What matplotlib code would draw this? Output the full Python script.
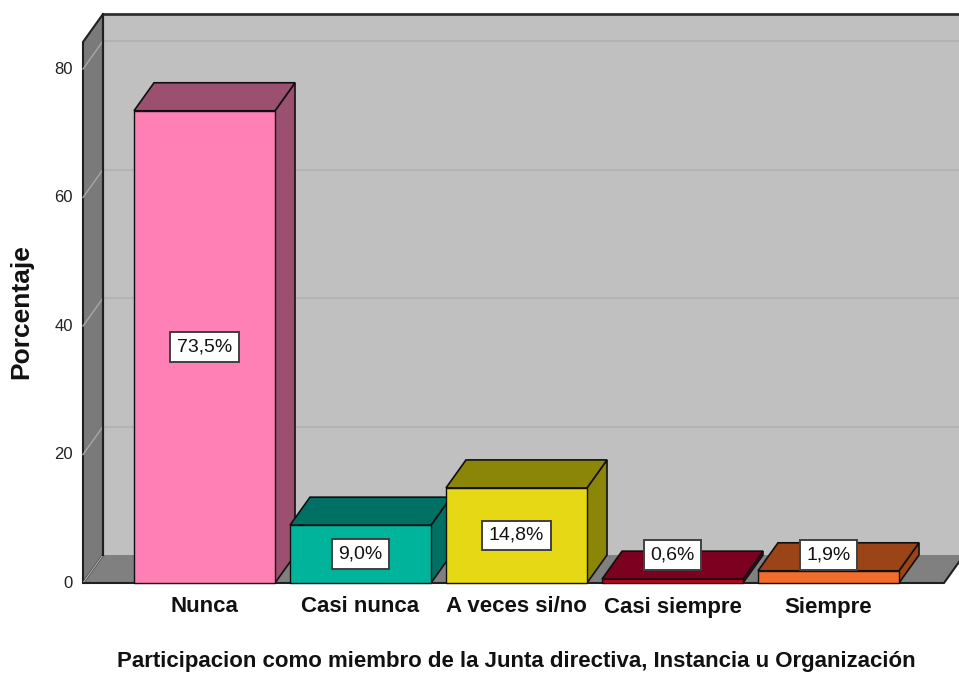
import matplotlib
matplotlib.use("Agg")
import matplotlib.pyplot as plt
from matplotlib.patches import Polygon, Rectangle

categories = ["Nunca", "Casi nunca", "A veces si/no", "Casi siempre", "Siempre"]
values = [73.5, 9.0, 14.8, 0.6, 1.9]
labels = ["73,5%", "9,0%", "14,8%", "0,6%", "1,9%"]
yticks = [0, 20, 40, 60, 80]
front_colors = ["#ff80b4", "#00b49c", "#e6d814", "#c8001e", "#f26c2c"]
top_colors = ["#9c5070", "#007064", "#8c8608", "#7c0020", "#9a4418"]
xtitle = "Participacion como miembro de la Junta directiva, Instancia u Organización"
ytitle = "Porcentaje"

plt.rcParams["font.family"] = ["Liberation Sans", "DejaVu Sans"]

W, H = 959, 674
fig = plt.figure(figsize=(W / 100, H / 100), dpi=100)
ax = fig.add_axes([0, 0, 1, 1])

# layout (pixel geometry -> data units)
px_x = 156.0
px_y = 6.425
x0_px = 204.5
ax.set_xlim(-x0_px / px_x, (W - x0_px) / px_x)
ax.set_ylim(-(H - 583) / px_y, 583 / px_y)
ax.axis("off")

hw = 70.5 / px_x
ddx = 20 / px_x
ddy = 28 / px_y
xl = (83 - x0_px) / px_x
xr = (944 - x0_px) / px_x
ymax = 84.2
wall_dark = "#7a7a7a"
floor_c = "#808080"
back_c = "#c0c0c0"

# back wall
ax.add_patch(Polygon([(xl + ddx, ddy), (xr + ddx + 1, ddy), (xr + ddx + 1, ymax + ddy),
                      (xl + ddx, ymax + ddy)], closed=True, facecolor=back_c, edgecolor="none", zorder=1))
for t in yticks[1:]:
    ax.plot([xl + ddx, xr + ddx + 1], [t + ddy, t + ddy], color="#b2b2b2", lw=1.3, zorder=2)
ax.plot([xl + ddx, xr + ddx + 1], [ymax + ddy, ymax + ddy], color="#303030", lw=2.0, zorder=3)
# left wall
ax.add_patch(Polygon([(xl, 0), (xl + ddx, ddy), (xl + ddx, ymax + ddy), (xl, ymax)], closed=True,
                     facecolor=wall_dark, edgecolor="#202020", lw=1.5, zorder=3))
for t in yticks:
    ax.plot([xl, xl + ddx], [t, t + ddy], color="#a8a8a8", lw=1.0, zorder=3.5)
# floor
ax.add_patch(Polygon([(xl, 0), (xr, 0), (xr + ddx, ddy), (xl + ddx, ddy)], closed=True,
                     facecolor=floor_c, edgecolor="none", zorder=2.5))
ax.plot([xl, xr, xr + ddx], [0, 0, ddy], color="#202020", lw=1.5, zorder=3.6)
ax.plot([xl + ddx, xl + ddx], [ddy, ymax + ddy], color="#202020", lw=1.5, zorder=3.6)

# bars
for i, (v, fc, tc) in enumerate(zip(values, front_colors, top_colors)):
    z = 10 + i
    a, b = i - hw, i + hw
    ax.add_patch(Polygon([(b, 0), (b + ddx, ddy), (b + ddx, v + ddy), (b, v)], closed=True,
                         facecolor=tc, edgecolor="#101010", lw=1.2, zorder=z))
    ax.add_patch(Polygon([(a, v), (b, v), (b + ddx, v + ddy), (a + ddx, v + ddy)], closed=True,
                         facecolor=tc, edgecolor="#101010", lw=1.2, zorder=z))
    ax.add_patch(Rectangle((a, 0), 2 * hw, v, facecolor=fc, edgecolor="#101010", lw=1.0, zorder=z + 0.1))

for i, (v, lab) in enumerate(zip(values, labels)):
    ly = max(v / 2, 4.3)
    ax.text(i, ly, lab, ha="center", va="center", fontsize=14, color="#111111", zorder=30,
            bbox=dict(boxstyle="square,pad=0.33", facecolor="white", edgecolor="#404040", lw=1.4))

# tick labels
for t in yticks:
    ax.text((73 - x0_px) / px_x, t, str(t), ha="right", va="center", fontsize=12, color="#222222")

for i, c in enumerate(categories):
    ax.text(i, -(607 - 583) / px_y, c, ha="center", va="center", fontsize=16, fontweight="bold",
            color="#111111")

fig.text(516 / W, 1 - 661 / H, xtitle, ha="center", va="center", fontsize=16, fontweight="bold",
         color="#111111")
fig.text(21 / W, 1 - 312 / H, ytitle, ha="center", va="center", rotation=90, fontsize=19,
         fontweight="bold", color="#111111")

fig.savefig("out.png", dpi=100, facecolor="white")
